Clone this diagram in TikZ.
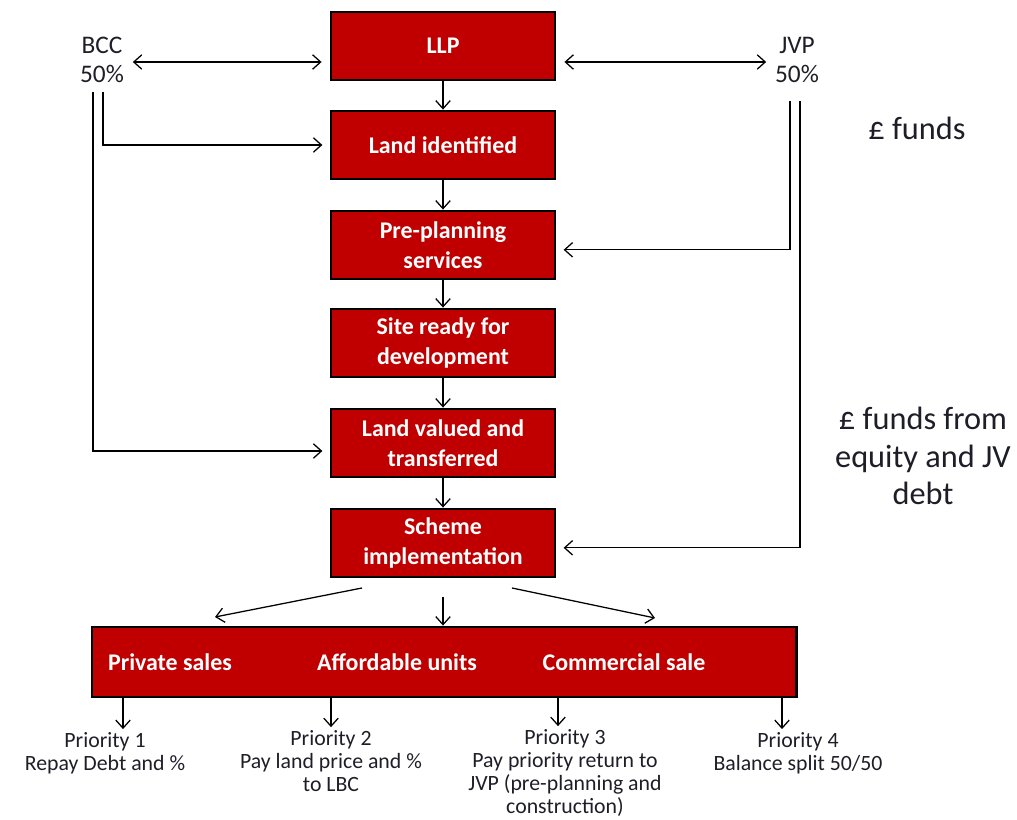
\documentclass[tikz,border=0pt]{standalone}
\usepackage{fontspec}
\setmainfont{Carlito}
\usetikzlibrary{arrows.meta}
\definecolor{boxred}{RGB}{192,0,0}
\definecolor{labelink}{RGB}{30,30,40}

\begin{document}
\begin{tikzpicture}[x=0.025cm,y=-0.025cm]
\tikzset{
  stepbox/.style={draw=black,line width=2pt,fill=boxred,text=white,align=center,
    font=\bfseries\fontsize{17}{21}\selectfont,minimum width=5.6cm,minimum height=1.7cm,inner sep=2pt},
  outbox/.style={draw=black,line width=2pt,fill=boxred,minimum width=17.6cm,minimum height=1.75cm},
  outtext/.style={text=white,font=\bfseries\fontsize{17}{20}\selectfont},
  party/.style={align=center,text=labelink,font=\fontsize{18}{21}\selectfont},
  fundtext/.style={align=center,text=labelink,font=\fontsize{23}{26.5}\selectfont},
  prio/.style={align=center,text=labelink,font=\fontsize{15.5}{16.5}\selectfont,inner sep=2pt},
  flow/.style={-{Straight Barb[length=2mm,width=3.6mm]},line width=0.9pt},
  sideflow/.style={flow,shorten >=1.8mm},
  twoway/.style={{Straight Barb[length=2mm,width=3.6mm]}-{Straight Barb[length=2mm,width=3.6mm]},line width=0.9pt}
}
\useasboundingbox (0,0) rectangle (1017,820);
% main chain
\node[stepbox] (llp) at (443,46) {LLP};
\node[stepbox] (landid) at (443,145) {Land identified};
\node[stepbox] (preplan) at (443,245) {Pre-planning\\services};
\node[stepbox] (siteready) at (443,343) {Site ready for\\development};
\node[stepbox] (landval) at (443,443) {Land valued and\\transferred};
\node[stepbox] (scheme) at (443,543) {Scheme\\implementation};
\node[outbox] (outcomes) at (444,662) {};
\node[outtext] (private) at (170,662) {Private sales};
\node[outtext] (afford) at (397,662) {Affordable units};
\node[outtext] (commercial) at (624,662) {Commercial sale};
% partners and funds
\node[party] (bcc) at (102,60) {BCC\\50\%};
\node[party] (jvp) at (797,60) {JVP\\50\%};
\node[fundtext] (funds) at (917,128) {£ funds};
\node[fundtext] (fundsjv) at (923,456) {£ funds from\\equity and JV\\debt};
% priorities
\node[prio] (prio1) at (105,753) {Priority 1\\Repay Debt and \%};
\node[prio] (prio2) at (331,761) {Priority 2\\Pay land price and \%\\to LBC};
\node[prio] (prio3) at (565,773) {Priority 3\\Pay priority return to\\JVP (pre-planning and\\construction)};
\node[prio] (prio4) at (798,753) {Priority 4\\Balance split 50/50};
\coordinate (bccin) at (103,92);
\coordinate (bccout) at (93,92);
\coordinate (jvpin) at (790,101);
\coordinate (jvpout) at (800,101);
\coordinate (splitl) at (362,588);
\coordinate (splitm) at (443,597);
\coordinate (splitr) at (512,588);
\coordinate (endl) at (215,617);
\coordinate (endr) at (655,618);
\coordinate (p1top) at (123,697);
\coordinate (p2top) at (331,697);
\coordinate (p3top) at (558,697);
\coordinate (p4top) at (782,697);

\draw[twoway] ([xshift=1mm]bcc.east |- 0,62) -- ([xshift=-2mm]llp.west |- 0,62);
\draw[twoway] ([xshift=2mm]llp.east |- 0,62) -- ([xshift=-1mm]jvp.west |- 0,62);
\draw[flow] (llp) -- (landid);
\draw[flow] (landid) -- (preplan);
\draw[flow] (preplan) -- (siteready);
\draw[flow] (siteready) -- (landval);
\draw[flow] (landval) -- (scheme);
\draw[sideflow] (bccin) |- (landid.west);
\draw[sideflow] (bccout) |- ([yshift=-2mm]landval.west);
\draw[sideflow] (jvpin) |- ([yshift=-1.2mm]preplan.east);
\draw[sideflow] (jvpout) |- ([yshift=-1.2mm]scheme.east);
\draw[flow] (splitl) -- (endl);
\draw[flow] (splitm) -- (splitm |- outcomes.north);
\draw[flow] (splitr) -- (endr);
\draw[flow] (p1top) -- (p1top |- prio1.north);
\draw[flow] (p2top) -- (p2top |- prio2.north);
\draw[flow] (p3top) -- (p3top |- prio3.north);
\draw[flow] (p4top) -- (p4top |- prio4.north);
\end{tikzpicture}
\end{document}
